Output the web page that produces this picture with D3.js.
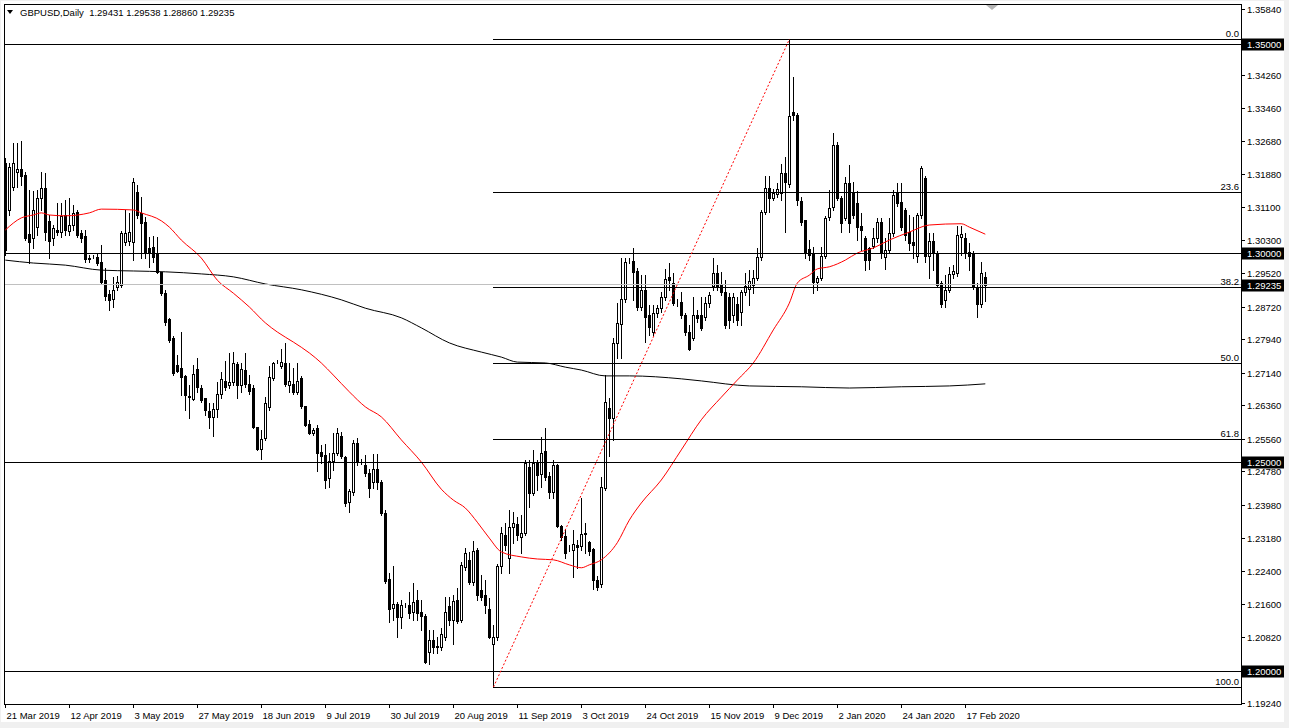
<!DOCTYPE html>
<html><head><meta charset="utf-8">
<script src="https://cdn.jsdelivr.net/npm/d3@7"></script>
<style>
html,body{margin:0;padding:0;background:#f0f0f0;overflow:hidden;}
svg{display:block;}
text{font-family:"Liberation Sans",Arial,sans-serif;font-size:9.5px;fill:#000;}
</style></head><body>
<svg id="c" width="1289" height="728"></svg>
<script>
// ---- DATA (GBPUSD Daily) ----
const openP=[
1.3215,1.3103,1.3158,1.3194,1.3201,1.3187,1.3045,1.3036,1.3062,1.3132,
1.3156,1.3077,1.3036,1.3055,1.3050,1.3091,1.3053,1.3067,1.3098,1.3048,
1.3041,1.2988,1.2991,1.2991,1.2979,1.2935,1.2902,1.2890,1.2919,1.2923,
1.3026,1.3029,1.3026,1.3146,1.3096,1.3074,1.3012,1.3014,1.3000,1.2955,
1.2904,1.2842,1.2797,1.2732,1.2725,1.2706,1.2658,1.2651,1.2723,1.2677,
1.2653,1.2622,1.2608,1.2627,1.2663,1.2694,1.2684,1.2691,1.2735,1.2684,
1.2720,1.2687,1.2677,1.2584,1.2531,1.2558,1.2632,1.2701,1.2742,1.2730,
1.2737,1.2684,1.2687,1.2668,1.2701,1.2634,1.2591,1.2569,1.2581,1.2524,
1.2517,1.2462,1.2502,1.2522,1.2562,1.2512,1.2404,1.2428,1.2546,1.2500,
1.2493,1.2474,1.2452,1.2483,1.2452,1.2378,1.2220,1.2151,1.2160,1.2129,
1.2158,1.2158,1.2141,1.2170,1.2141,1.2132,1.2046,1.2074,1.2058,1.2058,
1.2081,1.2156,1.2122,1.2170,1.2122,1.2249,1.2266,1.2213,1.2290,1.2194,
1.2182,1.2148,1.2065,1.2081,1.2251,1.2325,1.2270,1.2345,1.2352,1.2321,
1.2330,1.2488,1.2426,1.2498,1.2471,1.2526,1.2467,1.2428,1.2493,1.2347,
1.2323,1.2294,1.2290,1.2301,1.2299,1.2330,1.2309,1.2292,1.2218,1.2208,
1.2438,1.2629,1.2605,1.2785,1.2830,1.2890,1.2981,1.2981,1.2957,1.2871,
1.2912,1.2852,1.2811,1.2857,1.2869,1.2895,1.2943,1.2928,1.2880,1.2883,
1.2852,1.2811,1.2797,1.2852,1.2852,1.2847,1.2880,1.2921,1.2952,1.2923,
1.2907,1.2895,1.2852,1.2878,1.2859,1.2907,1.2914,1.2923,1.2940,1.2991,
1.3098,1.3156,1.3132,1.3141,1.3144,1.3191,1.3165,1.3337,1.3330,1.3124,
1.3079,1.3010,1.2998,1.2931,1.2940,1.2993,1.3086,1.3110,1.3258,1.3132,
1.3084,1.3167,1.3146,1.3120,1.3065,1.3036,1.3012,1.3017,1.3036,1.3074,
1.2991,1.3007,1.3048,1.3144,1.3122,1.3103,1.3050,1.3026,1.2993,1.3091,
1.3179,1.2993,1.3029,1.3000,1.2928,1.2888,1.2912,1.2950,1.2952,1.3038,
1.3036,1.3002,1.3000,1.2919,1.2878,1.29431];
const highP=[
1.3227,1.3215,1.3263,1.3263,1.3268,1.3194,1.3151,1.3148,1.3151,1.3194,
1.3191,1.3091,1.3067,1.3120,1.3120,1.3127,1.3132,1.3115,1.3103,1.3055,
1.3055,1.2995,1.2995,1.2998,1.3019,1.2964,1.2912,1.2943,1.2945,1.3053,
1.3103,1.3096,1.3179,1.3163,1.3134,1.3086,1.3038,1.3041,1.3038,1.2955,
1.2912,1.2845,1.2801,1.2756,1.2811,1.2708,1.2684,1.2732,1.2749,1.2684,
1.2653,1.2641,1.2641,1.2691,1.2715,1.2742,1.2761,1.2763,1.2739,1.2737,
1.2761,1.2708,1.2684,1.2584,1.2577,1.2656,1.2730,1.2739,1.2744,1.2770,
1.2785,1.2737,1.2725,1.2737,1.2706,1.2634,1.2601,1.2581,1.2589,1.2541,
1.2543,1.2522,1.2569,1.2581,1.2572,1.2514,1.2435,1.2553,1.2558,1.2507,
1.2517,1.2483,1.2519,1.2519,1.2457,1.2385,1.2235,1.2251,1.2165,1.2170,
1.2163,1.2189,1.2211,1.2194,1.2170,1.2136,1.2098,1.2098,1.2081,1.2103,
1.2177,1.2177,1.2182,1.2199,1.2261,1.2294,1.2285,1.2311,1.2294,1.2230,
1.2218,1.2175,1.2110,1.2256,1.2345,1.2354,1.2385,1.2380,1.2369,1.2373,
1.2505,1.2505,1.2529,1.2505,1.2560,1.2581,1.2476,1.2505,1.2495,1.2349,
1.2340,1.2301,1.2337,1.2313,1.2414,1.2354,1.2311,1.2294,1.2227,1.2464,
1.2708,1.2653,1.2797,1.2880,1.2988,1.2988,1.2988,1.3012,1.2964,1.2947,
1.2947,1.2876,1.2876,1.2876,1.2907,1.2962,1.2976,1.2952,1.2890,1.2907,
1.2857,1.2828,1.2895,1.2864,1.2895,1.2895,1.2907,1.2988,1.2971,1.2955,
1.2935,1.2904,1.2904,1.2895,1.2912,1.2952,1.2959,1.2959,1.3012,1.3103,
1.3184,1.3184,1.3153,1.3167,1.3213,1.3230,1.3512,1.3421,1.3335,1.3134,
1.3079,1.3031,1.3014,1.2945,1.3014,1.3089,1.3151,1.3287,1.3266,1.3137,
1.3182,1.3211,1.3170,1.3148,1.3096,1.3041,1.3014,1.3060,1.3084,1.3084,
1.3036,1.3084,1.3151,1.3167,1.3167,1.3108,1.3091,1.3086,1.3096,1.3208,
1.3184,1.3048,1.3048,1.3005,1.2933,1.2947,1.2967,1.2971,1.3065,1.3065,
1.3048,1.3024,1.3005,1.2928,1.2979,1.29538];
const lowP=[
1.2995,1.3091,1.3151,1.3158,1.3163,1.3031,1.2976,1.3012,1.3043,1.3103,
1.3031,1.2988,1.3019,1.3043,1.3038,1.3043,1.3043,1.3055,1.3038,1.3026,
1.2979,1.2979,1.2988,1.2971,1.2926,1.2888,1.2864,1.2871,1.2912,1.2919,
1.3019,1.3019,1.2983,1.3084,1.2988,1.2988,1.2967,1.2979,1.2952,1.2900,
1.2828,1.2787,1.2708,1.2715,1.2660,1.2624,1.2605,1.2648,1.2668,1.2644,
1.2612,1.2581,1.2562,1.2608,1.2653,1.2672,1.2677,1.2684,1.2653,1.2668,
1.2680,1.2663,1.2581,1.2529,1.2507,1.2553,1.2624,1.2696,1.2737,1.2725,
1.2682,1.2668,1.2663,1.2663,1.2629,1.2586,1.2567,1.2565,1.2479,1.2498,
1.2438,1.2440,1.2481,1.2517,1.2510,1.2395,1.2380,1.2421,1.2493,1.2495,
1.2467,1.2416,1.2438,1.2435,1.2373,1.2211,1.2117,1.2122,1.2081,1.2103,
1.2153,1.2127,1.2122,1.2122,1.2098,1.2019,1.2017,1.2043,1.2043,1.2050,
1.2074,1.2110,1.2065,1.2115,1.2117,1.2242,1.2208,1.2206,1.2170,1.2170,
1.2139,1.2079,1.1962,1.2074,1.2235,1.2290,1.2235,1.2306,1.2313,1.2282,
1.2325,1.2392,1.2421,1.2433,1.2440,1.2457,1.2414,1.2414,1.2345,1.2313,
1.2270,1.2287,1.2225,1.2247,1.2290,1.2282,1.2277,1.2196,1.2194,1.2201,
1.2433,1.2514,1.2553,1.2749,1.2749,1.2883,1.2976,1.2888,1.2864,1.2864,
1.2787,1.2804,1.2804,1.2847,1.2859,1.2888,1.2912,1.2876,1.2873,1.2845,
1.2804,1.2768,1.2792,1.2835,1.2816,1.2840,1.2871,1.2912,1.2912,1.2900,
1.2821,1.2821,1.2835,1.2828,1.2828,1.2900,1.2876,1.2904,1.2935,1.2983,
1.3093,1.3098,1.3127,1.3134,1.3127,1.3050,1.3158,1.3318,1.3115,1.3067,
1.2988,1.2983,1.2904,1.2912,1.2935,1.2988,1.3079,1.3103,1.3127,1.3050,
1.3079,1.3050,1.3084,1.3031,1.3007,1.2959,1.2962,1.3012,1.3026,1.2988,
1.2962,1.3000,1.3041,1.3112,1.3055,1.3031,1.3007,1.2988,1.2979,1.3084,
1.2979,1.2940,1.2959,1.2919,1.2871,1.2871,1.2907,1.2940,1.2945,1.2995,
1.2988,1.2959,1.2914,1.2847,1.2871,1.28860];
const closeP=[
1.3007,1.3206,1.3215,1.3201,1.3184,1.3036,1.3026,1.3103,1.3132,1.3156,
1.3050,1.3029,1.3060,1.3050,1.3089,1.3055,1.3067,1.3096,1.3043,1.3036,
1.2986,1.2986,1.2991,1.2976,1.2931,1.2897,1.2888,1.2912,1.2931,1.3048,
1.3048,1.3050,1.3170,1.3091,1.3072,1.3002,1.3002,1.2991,1.2955,1.2904,
1.2835,1.2792,1.2713,1.2718,1.2703,1.2660,1.2656,1.2711,1.2680,1.2648,
1.2624,1.2608,1.2627,1.2663,1.2699,1.2680,1.2691,1.2737,1.2684,1.2723,
1.2687,1.2670,1.2584,1.2531,1.2555,1.2641,1.2703,1.2737,1.2742,1.2739,
1.2687,1.2694,1.2668,1.2694,1.2634,1.2589,1.2569,1.2577,1.2522,1.2514,
1.2457,1.2502,1.2522,1.2569,1.2514,1.2402,1.2431,1.2546,1.2500,1.2500,
1.2474,1.2438,1.2483,1.2452,1.2378,1.2215,1.2148,1.2160,1.2129,1.2158,
1.2158,1.2139,1.2165,1.2139,1.2132,1.2022,1.2074,1.2058,1.2060,1.2089,
1.2141,1.2122,1.2168,1.2120,1.2254,1.2282,1.2213,1.2287,1.2182,1.2177,
1.2158,1.2081,1.2081,1.2251,1.2330,1.2301,1.2345,1.2354,1.2325,1.2330,
1.2498,1.2426,1.2498,1.2469,1.2522,1.2464,1.2428,1.2493,1.2347,1.2321,
1.2282,1.2294,1.2304,1.2297,1.2328,1.2328,1.2287,1.2218,1.2201,1.2440,
1.2644,1.2605,1.2785,1.2833,1.2890,1.2979,1.2980,1.2955,1.2871,1.2912,
1.2847,1.2823,1.2857,1.2869,1.2895,1.2938,1.2935,1.2880,1.2880,1.2852,
1.2811,1.2770,1.2852,1.2845,1.2821,1.2880,1.2900,1.2952,1.2921,1.2907,
1.2828,1.2840,1.2895,1.2840,1.2907,1.2921,1.2933,1.2940,1.2991,1.3098,
1.3156,1.3132,1.3144,1.3153,1.3191,1.3170,1.3328,1.3330,1.3127,1.3074,
1.3002,1.2995,1.2931,1.2940,1.2993,1.3084,1.3108,1.3258,1.3132,1.3072,
1.3167,1.3072,1.3091,1.3062,1.3055,1.2983,1.2983,1.3036,1.3074,1.3002,
1.3007,1.3048,1.3139,1.3120,1.3062,1.3043,1.3024,1.3019,1.3091,1.3203,
1.2993,1.3029,1.3000,1.2923,1.2878,1.2912,1.2950,1.2957,1.3043,1.3045,
1.3000,1.2993,1.2919,1.2878,1.2952,1.29235];

// Moving averages: bar index + value
const maRedIdx=[0,4,7,9,11,15,21,24,32,34,39,41,44,49,53,57,61,65,68,72,76,79,82,86,90,94,99,104,109,112,115,118,121,124,129,133,137,141,144,146,149,153,156,159,164,169,174,179,183,187,192,196,198,201,203,206,210,213,217,221,226,231,239,241,245];
const maRedVal=[1.3055,1.3084,1.3091,1.3096,1.3091,1.3089,1.3096,1.3105,1.3103,1.3096,1.3077,1.3062,1.3031,1.2988,1.2935,1.2904,1.2871,1.2833,1.2811,1.2787,1.2761,1.2737,1.2708,1.2668,1.2632,1.2608,1.2553,1.2500,1.2435,1.2409,1.2390,1.2356,1.2318,1.2285,1.2273,1.2268,1.2266,1.2254,1.2247,1.2254,1.2266,1.2307,1.2361,1.2402,1.2457,1.2529,1.2601,1.2655,1.2696,1.2737,1.2816,1.2880,1.2928,1.2947,1.2962,1.2967,1.2983,1.3000,1.3012,1.3031,1.3050,1.3067,1.3070,1.3062,1.3045];
const maBlackIdx=[0,7,15,24,32,40,49,57,65,74,84,90,99,104,111,119,124,128,135,140,144,150,156,169,174,186,199,211,224,236,245];
const maBlackVal=[1.2983,1.2976,1.2971,1.2959,1.2957,1.2955,1.2950,1.2943,1.2926,1.2912,1.2888,1.2868,1.2845,1.2821,1.2785,1.2763,1.2751,1.2739,1.2737,1.2727,1.2720,1.2706,1.2706,1.2699,1.2694,1.2682,1.2680,1.2677,1.2680,1.2682,1.2687];

const dateIdx=[0,16,32,48,64,80,96,112,128,144,160,176,192,208,224,240];
const dateLabels=["21 Mar 2019","12 Apr 2019","3 May 2019","27 May 2019","18 Jun 2019","9 Jul 2019","30 Jul 2019","20 Aug 2019","11 Sep 2019","3 Oct 2019","24 Oct 2019","15 Nov 2019","9 Dec 2019","2 Jan 2020","24 Jan 2020","17 Feb 2020"];
const priceTicks=[1.35840,1.34260,1.33460,1.32680,1.31880,1.31100,1.30300,1.29520,1.28720,1.27940,1.27140,1.26360,1.25560,1.24780,1.23980,1.23180,1.22400,1.21600,1.20820,1.19240];
const roundLevels=[1.35,1.30,1.25,1.20];
const bidPrice=1.29235;
const fibHigh=1.3512, fibLow=1.19617, fibHighIdx=196, fibLowIdx=122;
const fibLevels=[0,23.6,38.2,50,61.8,100];
const fibText=["0.0","23.6","38.2","50.0","61.8","100.0"];
const title="GBPUSD,Daily  1.29431 1.29538 1.28860 1.29235";

// ---- LAYOUT ----
const L=4, R=1241, T=4, B=704;
const x=d3.scaleLinear().domain([0,245]).range([5.3,985.3]);
const y=d3.scaleLinear().domain([1.19211,1.35957]).range([B,T]);
const px=v=>Math.round(x(v));
const py=v=>Math.round(y(v));

const svg=d3.select("#c");
svg.append("rect").attr("x",1).attr("y",1).attr("width",1283).attr("height",721).attr("fill","#fff");
svg.append("defs").append("clipPath").attr("id","clip").append("rect")
  .attr("x",L+1).attr("y",T+1).attr("width",R-L-1).attr("height",B-T-1);
const plot=svg.append("g").attr("clip-path","url(#clip)");

// candles
const idx=d3.range(openP.length);
const cg=plot.append("g");
idx.forEach(i=>{
  const cx=px(i);
  cg.append("line").attr("x1",cx+0.5).attr("x2",cx+0.5)
    .attr("y1",py(highP[i])).attr("y2",py(lowP[i])+1)
    .attr("stroke","#000").attr("stroke-width",1).attr("shape-rendering","crispEdges");
  const yo=py(openP[i]), yc=py(closeP[i]);
  const top=Math.min(yo,yc), h=Math.abs(yo-yc);
  const bull=closeP[i]>=openP[i];
  cg.append("rect").attr("x",cx-0.5).attr("y",top+0.5).attr("width",2).attr("height",h)
    .attr("fill",bull?"#fff":"#000").attr("stroke","#000").attr("stroke-width",1)
    .attr("shape-rendering","crispEdges");
});

// moving averages
const line=d3.line().x(d=>x(d[0])).y(d=>y(d[1])).curve(d3.curveMonotoneX);
plot.append("path").datum(maBlackIdx.map((v,k)=>[v,maBlackVal[k]]))
  .attr("d",line).attr("fill","none").attr("stroke","#000").attr("stroke-width",1);
plot.append("path").datum(maRedIdx.map((v,k)=>[v,maRedVal[k]]))
  .attr("d",line).attr("fill","none").attr("stroke","#ff0000").attr("stroke-width",1);

// bid line
plot.append("line").attr("x1",L).attr("x2",R).attr("y1",py(bidPrice)-0.5).attr("y2",py(bidPrice)-0.5)
  .attr("stroke","#c0c0c0").attr("stroke-width",1);

// round-number horizontal lines
roundLevels.forEach(p=>{
  plot.append("line").attr("x1",L).attr("x2",R).attr("y1",py(p)+0.5).attr("y2",py(p)+0.5)
    .attr("stroke","#000").attr("stroke-width",1);
});

// fibonacci
const fx0=px(fibLowIdx);
fibLevels.forEach((lv,k)=>{
  const p=fibHigh-lv/100*(fibHigh-fibLow);
  const yy=py(p)+0.5;
  plot.append("line").attr("x1",fx0).attr("x2",R).attr("y1",yy).attr("y2",yy)
    .attr("stroke","#000").attr("stroke-width",1);
  svg.append("text").attr("x",R-2).attr("y",yy-3).attr("text-anchor","end").text(fibText[k]);
});
plot.append("line").attr("x1",px(fibLowIdx)+0.5).attr("y1",y(fibLow))
  .attr("x2",px(fibHighIdx)+0.5).attr("y2",y(fibHigh))
  .attr("stroke","#ff0000").attr("stroke-width",1).attr("stroke-dasharray","2,2");

// frame
const fr=svg.append("g").attr("stroke","#000").attr("stroke-width",1).attr("shape-rendering","crispEdges");
fr.append("line").attr("x1",L+0.5).attr("x2",L+0.5).attr("y1",T).attr("y2",B+1);
fr.append("line").attr("x1",L).attr("x2",R+1).attr("y1",T+0.5).attr("y2",T+0.5);
fr.append("line").attr("x1",R+0.5).attr("x2",R+0.5).attr("y1",T).attr("y2",B+1);
fr.append("line").attr("x1",L).attr("x2",R+1).attr("y1",B+0.5).attr("y2",B+0.5);

// y axis ticks & labels
priceTicks.forEach(p=>{
  const yy=py(p)+0.5;
  fr.append("line").attr("x1",R).attr("x2",R+4).attr("y1",yy).attr("y2",yy);
  svg.append("text").attr("x",R+6).attr("y",yy).attr("dy","0.35em").text(p.toFixed(5));
});
// boxed price labels
roundLevels.concat([bidPrice]).forEach(p=>{
  const yy=py(p)+0.5;
  svg.append("rect").attr("x",R+1).attr("y",yy-6).attr("width",42).attr("height",12).attr("fill","#000");
  svg.append("text").attr("x",R+6).attr("y",yy).attr("dy","0.35em").style("fill","#fff").text(p.toFixed(5));
});

// x axis ticks & labels
dateIdx.forEach((d,k)=>{
  const xx=px(d)+0.5;
  fr.append("line").attr("x1",xx).attr("x2",xx).attr("y1",B).attr("y2",B+4);
  svg.append("text").attr("x",xx+1).attr("y",B+15).text(dateLabels[k]);
});

// title
svg.append("path").attr("d","M7,10 L13,10 L10,14 Z").attr("fill","#000");
svg.append("text").attr("x",20).attr("y",16).attr("xml:space","preserve").style("white-space","pre").text(title);
// chart shift marker
svg.append("path").attr("d","M986,5 L998,5 L992,10 Z").attr("fill","#b4b4b4");
</script>
</body></html>
